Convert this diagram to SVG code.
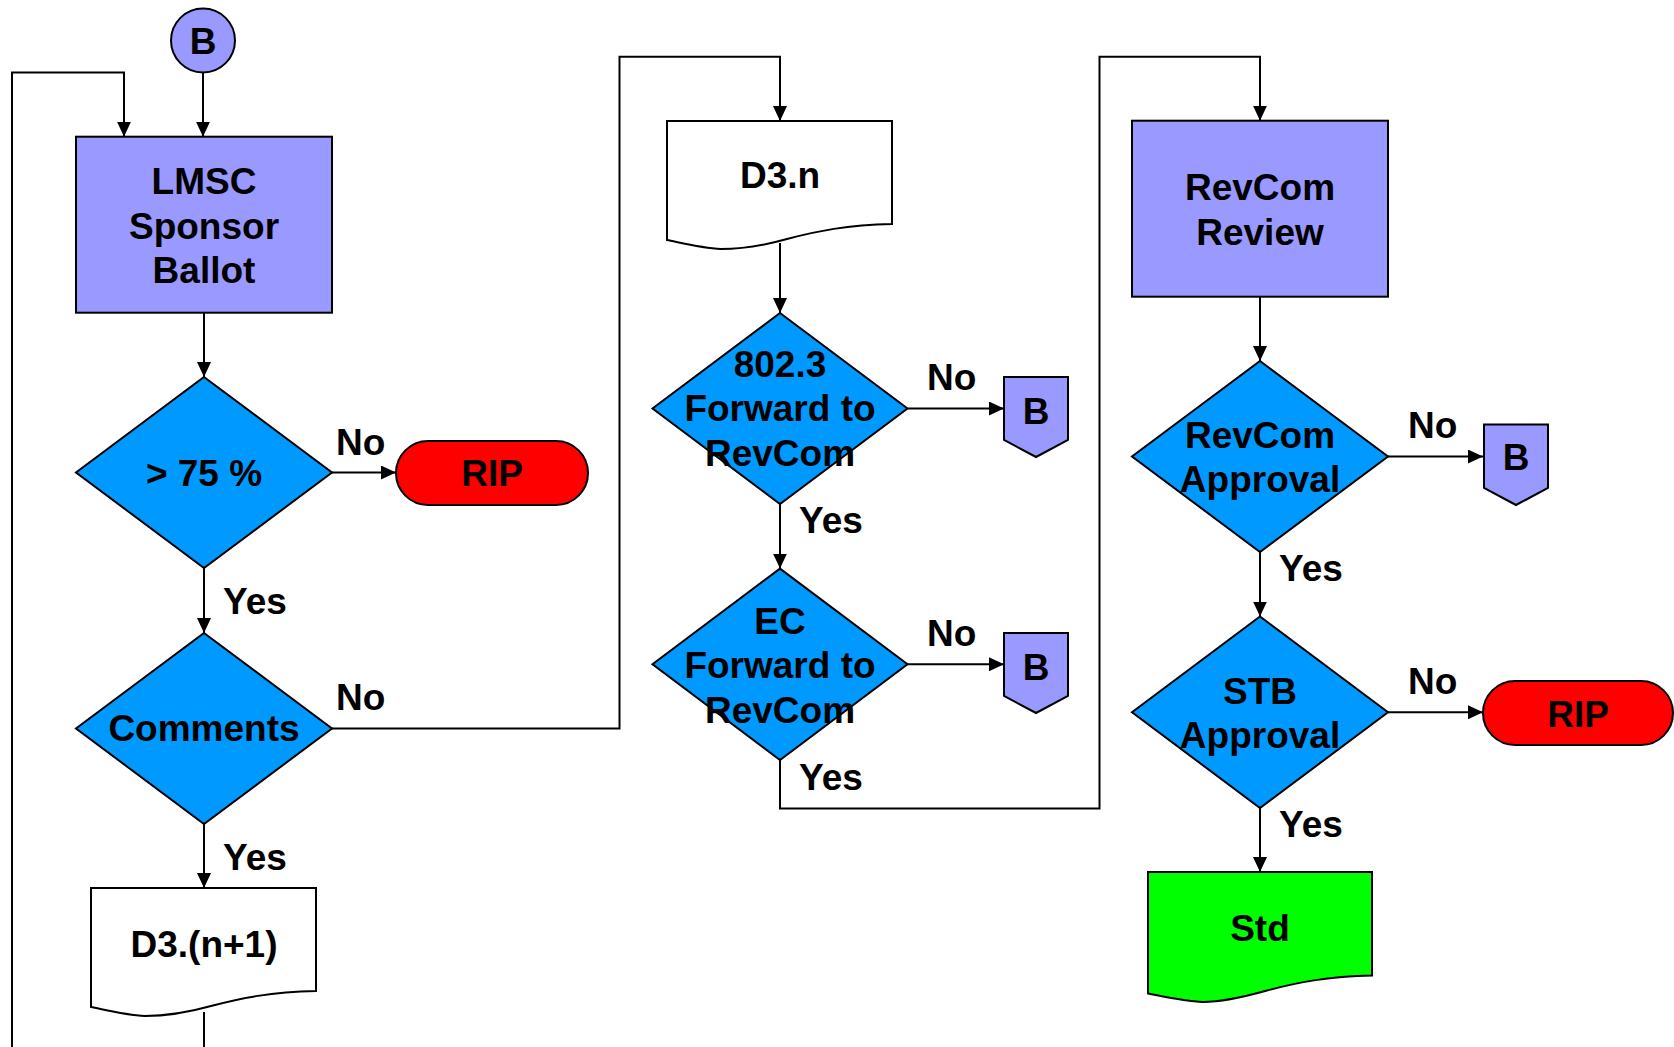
<svg xmlns="http://www.w3.org/2000/svg" width="1674" height="1047" viewBox="0 0 1674 1047">
<defs>
<marker id="arr" markerWidth="15" markerHeight="14" refX="15" refY="7" orient="auto" markerUnits="userSpaceOnUse">
<path d="M0,0 L15,7 L0,14 Z" fill="#000"/>
</marker>
<style>
.t{font-family:"Liberation Sans",Arial,sans-serif;font-weight:bold;font-size:37px;fill:#000;text-anchor:middle}
.l{font-family:"Liberation Sans",Arial,sans-serif;font-weight:bold;font-size:37px;fill:#000;text-anchor:start}
.proc{fill:#9999FF;stroke:#000;stroke-width:2}
.dec{fill:#0099FF;stroke:#000;stroke-width:2}
.doc{fill:#FFFFFF;stroke:#000;stroke-width:2}
.rip{fill:#FF0000;stroke:#000;stroke-width:2}
.c{fill:none;stroke:#000;stroke-width:2}
.a{fill:none;stroke:#000;stroke-width:2;marker-end:url(#arr)}
</style>
</defs>
<rect width="1674" height="1047" fill="#fff"/>
<g id="connectors">
<path class="a" d="M203,72.5 V136.7"/>
<path class="a" d="M12,1047 V72.6 H124 V136.7"/>
<path class="a" d="M204,312.8 V377"/>
<path class="a" d="M332,472.5 H396"/>
<path class="a" d="M204,568 V633"/>
<path class="a" d="M332,728.5 H619.5 V56.7 H780 V121"/>
<path class="a" d="M204,824 V888"/>
<path class="c" d="M204,1012 V1047"/>
<path class="a" d="M780,243 V313"/>
<path class="a" d="M907.5,408.5 H1004"/>
<path class="a" d="M780,504 V568.6"/>
<path class="a" d="M907.5,664.3 H1004"/>
<path class="a" d="M780,760 V808.5 H1099.5 V56.7 H1260 V120.7"/>
<path class="a" d="M1260,296.7 V361"/>
<path class="a" d="M1388,456.5 H1483"/>
<path class="a" d="M1260,552 V616.5"/>
<path class="a" d="M1388,712.3 H1483"/>
<path class="a" d="M1260,808 V872"/>
</g>
<g id="labels">
<text class="l" x="336" y="455">No</text>
<text class="l" x="336" y="710">No</text>
<text class="l" x="927" y="390">No</text>
<text class="l" x="927" y="646">No</text>
<text class="l" x="1408" y="438">No</text>
<text class="l" x="1408" y="694">No</text>
<text class="l" x="223" y="614">Yes</text>
<text class="l" x="223" y="870">Yes</text>
<text class="l" x="799" y="533">Yes</text>
<text class="l" x="799" y="790">Yes</text>
<text class="l" x="1279" y="581">Yes</text>
<text class="l" x="1279" y="837">Yes</text>
</g>
<g id="startB">
<circle cx="203" cy="40.5" r="32" class="proc"/>
<text class="t" x="203" y="54">B</text>
</g>
<g id="lmsc">
<rect x="76" y="136.7" width="256" height="176" class="proc"/>
<text class="t" x="204" y="194">LMSC</text>
<text class="t" x="204" y="238.5">Sponsor</text>
<text class="t" x="204" y="283">Ballot</text>
</g>
<g id="d75">
<polygon class="dec" points="204,377 332,472.5 204,568 76,472.5"/>
<text class="t" x="204" y="486">&gt; 75 %</text>
</g>
<g id="rip1">
<rect x="396" y="441" width="192" height="64" rx="32" class="rip"/>
<text class="t" x="492" y="486">RIP</text>
</g>
<g id="comments">
<polygon class="dec" points="204,633 332,728.5 204,824 76,728.5"/>
<text class="t" x="204" y="741">Comments</text>
</g>
<g id="d3n1">
<path class="doc" d="M91,888 H316 V991 C271,992 241,998 211,1006 C186,1013 166,1016 145,1016 C126,1015 106,1010 91,1007 Z"/>
<text class="t" x="204" y="957">D3.(n+1)</text>
</g>
<g id="d3n">
<path class="doc" d="M667,121 H892 V224 C847,225 817,231 787,239 C762,246 742,249 721,249 C702,248 682,243 667,240 Z"/>
<text class="t" x="780" y="188">D3.n</text>
</g>
<g id="fwd8023">
<polygon class="dec" points="780,313 907.5,408.5 780,504 652.5,408.5"/>
<text class="t" x="780" y="377">802.3</text>
<text class="t" x="780" y="421">Forward to</text>
<text class="t" x="780" y="466">RevCom</text>
</g>
<g id="b1">
<path class="proc" d="M1004,377 H1068 V440 L1036,457 L1004,440 Z"/>
<text class="t" x="1036" y="424">B</text>
</g>
<g id="fwdEC">
<polygon class="dec" points="780,568.6 907.5,664.3 780,760 652.5,664.3"/>
<text class="t" x="780" y="634">EC</text>
<text class="t" x="780" y="678">Forward to</text>
<text class="t" x="780" y="723">RevCom</text>
</g>
<g id="b2">
<path class="proc" d="M1004,633 H1068 V696 L1036,713 L1004,696 Z"/>
<text class="t" x="1036" y="680">B</text>
</g>
<g id="revcomReview">
<rect x="1132" y="120.7" width="256" height="176" class="proc"/>
<text class="t" x="1260" y="200">RevCom</text>
<text class="t" x="1260" y="245">Review</text>
</g>
<g id="revcomApproval">
<polygon class="dec" points="1260,361 1388,456.5 1260,552 1132,456.5"/>
<text class="t" x="1260" y="447.5">RevCom</text>
<text class="t" x="1260" y="492">Approval</text>
</g>
<g id="b3">
<path class="proc" d="M1484,424.5 H1548 V488 L1516,505 L1484,488 Z"/>
<text class="t" x="1516" y="470">B</text>
</g>
<g id="stbApproval">
<polygon class="dec" points="1260,616.5 1388,712.3 1260,808 1132,712.3"/>
<text class="t" x="1260" y="704">STB</text>
<text class="t" x="1260" y="748">Approval</text>
</g>
<g id="rip2">
<rect x="1483" y="681" width="190" height="64" rx="32" class="rip"/>
<text class="t" x="1578" y="726.5">RIP</text>
</g>
<g id="std">
<path d="M1148,872 H1372 V975.5 C1327,976.5 1297,982.5 1267,990.5 C1242,997.5 1222,1002 1203,1002 C1184,1001 1164,996.5 1148,993.5 Z" fill="#00FF00" stroke="#000" stroke-width="2"/>
<text class="t" x="1260" y="940.5">Std</text>
</g>
</svg>
